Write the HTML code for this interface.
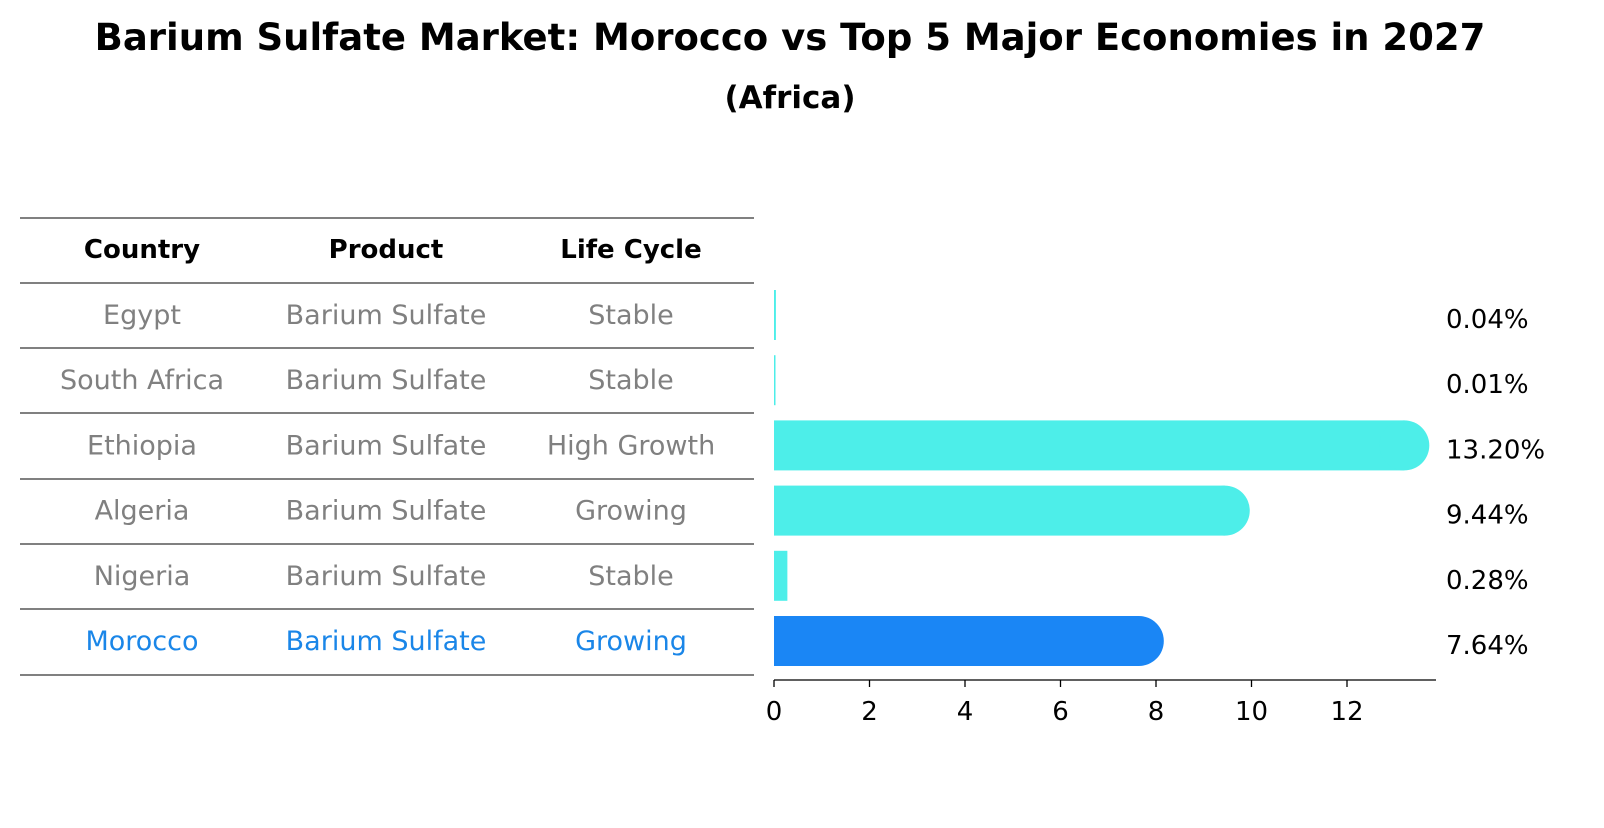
<!DOCTYPE html>
<html><head><meta charset="utf-8"><style>
body{margin:0;background:#fff;}
svg text{font-family:"DejaVu Sans","Liberation Sans",sans-serif;}
</style></head><body>
<svg width="1604" height="823" viewBox="0 0 1604 823">
<text x="790" y="50" text-anchor="middle" font-size="37" font-weight="bold">Barium Sulfate Market: Morocco vs Top 5 Major Economies in 2027</text>
<text x="790" y="108" text-anchor="middle" font-size="31" font-weight="bold">(Africa)</text>
<g id="table"></g>
<g id="bars"></g>
<g id="axis"></g>
</svg>
<script>
const countries=["Egypt","South Africa","Ethiopia","Algeria","Nigeria","Morocco"];
const products=["Barium Sulfate","Barium Sulfate","Barium Sulfate","Barium Sulfate","Barium Sulfate","Barium Sulfate"];
const lifeCycles=["Stable","Stable","High Growth","Growing","Stable","Growing"];
const values=[0.04,0.01,13.20,9.44,0.28,7.64];
const labels=["0.04%","0.01%","13.20%","9.44%","0.28%","7.64%"];
const ticks=[0,2,4,6,8,10,12];
const NS="http://www.w3.org/2000/svg";
function mk(t,a,p){const e=document.createElementNS(NS,t);for(const k in a)e.setAttribute(k,a[k]);p.appendChild(e);return e;}
const X=v=>774+v*47.75;
const rowY=i=>315+i*65.2;
const tbl=document.getElementById('table');
const lineYs=[218,283,348,413,479,544,609,675];
lineYs.forEach(y=>{const l=mk('line',{x1:20,x2:754,y1:y,y2:y,stroke:'#000','stroke-width':1},tbl);

});
const cols=[142,386,631];
["Country","Product","Life Cycle"].forEach((h,j)=>{const t=mk('text',{x:cols[j],y:258,'text-anchor':'middle','font-size':26,'font-weight':'bold'},tbl);t.textContent=h;

});
countries.forEach((c,i)=>{const col=c==="Morocco"?"#1a86e8":"#808080";
[c,products[i],lifeCycles[i]].forEach((s,j)=>{const t=mk('text',{x:cols[j],y:rowY(i)+9,'text-anchor':'middle','font-size':27,fill:col},tbl);t.textContent=s;

});});
const bars=document.getElementById('bars');
values.forEach((v,i)=>{const col=countries[i]==="Morocco"?"#1a86f5":"#4deee9";const y=rowY(i);const w=X(v)-774;
const r=mk('rect',{x:774,y:y-25,width:Math.max(w,1.5),height:50,fill:col},bars);


if(v>1){const c=mk('circle',{cx:X(v),cy:y,r:25,fill:col},bars);

}
const t=mk('text',{x:1446,y:y+13,'font-size':26},bars);t.textContent=labels[i];

});
const ax=document.getElementById('axis');
const al=mk('line',{x1:774,x2:1436,y1:680,y2:680,stroke:'#000','stroke-width':1.3},ax);


ticks.forEach(t=>{const l=mk('line',{x1:X(t),x2:X(t),y1:680,y2:687,stroke:'#000','stroke-width':1.3},ax);


const tx=mk('text',{x:X(t),y:720,'text-anchor':'middle','font-size':26},ax);tx.textContent=t;

});
</script>
</body></html>
